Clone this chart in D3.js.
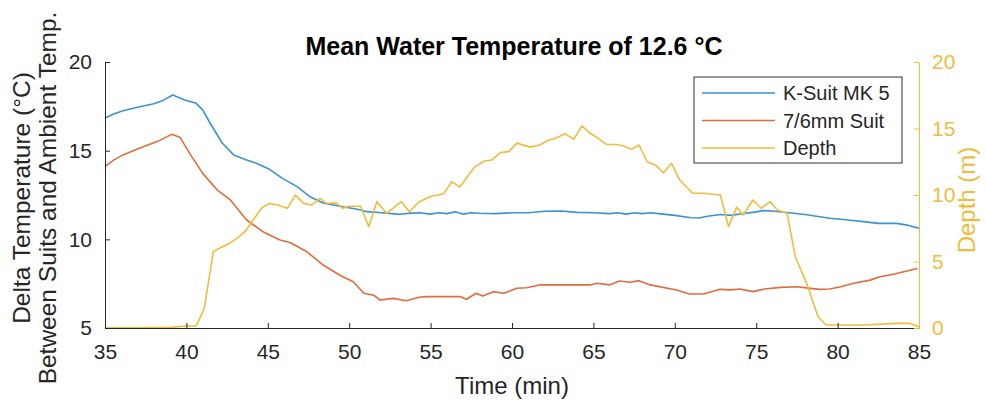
<!DOCTYPE html>
<html>
<head>
<meta charset="utf-8">
<script src="https://cdn.jsdelivr.net/npm/d3@7"></script>
<style>
  body { margin: 0; background: #fff; }
  svg { font-family: "Liberation Sans", Arial, sans-serif; }
</style>
</head>
<body>
<svg id="chart" width="986" height="402"></svg>
<script>
/* Suit temperature vs. depth, two y axes (MATLAB-like look) */

// K-Suit MK 5
const kTime = [35, 35.5, 36.1, 37, 38, 38.6, 39.16, 39.9, 40.6, 41, 41.45, 42.2, 42.9, 43.7, 44.3, 45.1, 45.9, 46.8, 47.6, 48.4, 49.6, 50.5, 51.1, 52, 53.1, 53.8, 54.3, 55, 55.5, 56, 56.5, 57, 57.5, 58, 59, 60, 61, 62, 63, 64, 65, 66, 66.5, 67, 67.5, 68, 68.5, 69, 70, 71, 71.5, 72, 72.8, 73.5, 74, 75, 75.4, 76, 77, 78, 79.5, 80.5, 81.6, 82.5, 83.6, 84.3, 85];
const kSuit = [16.84, 17.05, 17.25, 17.45, 17.65, 17.85, 18.14, 17.86, 17.67, 17.3, 16.56, 15.43, 14.76, 14.47, 14.29, 13.95, 13.44, 12.97, 12.4, 12.05, 11.84, 11.7, 11.56, 11.5, 11.41, 11.48, 11.5, 11.42, 11.5, 11.45, 11.55, 11.42, 11.5, 11.47, 11.45, 11.5, 11.5, 11.58, 11.6, 11.52, 11.5, 11.45, 11.5, 11.42, 11.5, 11.45, 11.5, 11.45, 11.35, 11.22, 11.2, 11.3, 11.4, 11.35, 11.43, 11.55, 11.62, 11.6, 11.5, 11.4, 11.19, 11.1, 11.0, 10.9, 10.9, 10.8, 10.62];

// 7/6mm Suit
const wetTime = [35, 35.5, 36.1, 37, 38.2, 39.1, 39.6, 40.2, 41, 41.9, 42.7, 43.7, 44.7, 45.75, 46.4, 47.4, 48.4, 49.4, 50.25, 50.9, 51.5, 51.9, 52.7, 53.5, 54.3, 54.75, 56.8, 57.2, 57.8, 58.2, 58.85, 59.5, 60.3, 60.9, 61.7, 64.8, 65.2, 66, 66.6, 67.25, 67.8, 68.5, 70.1, 70.9, 71.75, 72.8, 73.4, 74, 74.8, 75.5, 76.5, 77.5, 78.2, 78.9, 79.5, 80.2, 81, 82, 82.6, 83.5, 84.2, 84.9];
const wetSuit = [14.1, 14.45, 14.76, 15.1, 15.51, 15.92, 15.76, 14.85, 13.72, 12.78, 12.22, 11.09, 10.43, 9.96, 9.81, 9.3, 8.55, 7.99, 7.61, 6.96, 6.85, 6.58, 6.67, 6.54, 6.73, 6.77, 6.77, 6.62, 6.96, 6.8, 7.05, 6.96, 7.24, 7.27, 7.43, 7.43, 7.52, 7.43, 7.65, 7.58, 7.67, 7.43, 7.14, 6.92, 6.92, 7.18, 7.15, 7.2, 7.05, 7.2, 7.29, 7.33, 7.25, 7.18, 7.2, 7.33, 7.52, 7.7, 7.89, 8.05, 8.2, 8.36];

// Depth (m), right axis
const depthTime = [35, 36, 37, 38, 39, 40, 40.6, 41.1, 41.65, 42.2, 42.6, 43.1, 43.6, 44.1, 44.6, 45.1, 45.6, 46.2, 46.7, 47.2, 47.7, 48.2, 48.6, 49.2, 49.6, 50, 50.7, 51.2, 51.7, 52.3, 53.2, 53.7, 54.3, 54.95, 55.8, 56.3, 56.8, 57.7, 58.3, 58.75, 59.3, 59.8, 60.3, 61.1, 61.7, 62.2, 62.75, 63.25, 63.8, 64.3, 64.8, 65.2, 65.8, 66.4, 66.85, 67.35, 67.8, 68.3, 68.8, 69.3, 69.8, 70.3, 71.1, 71.75, 72.8, 73.3, 73.8, 74.2, 74.8, 75.3, 75.85, 76.3, 76.9, 77.4, 78.1, 78.8, 79.3, 79.75, 81.6, 83.6, 84.4, 85];
const depth = [0.02, 0.02, 0.02, 0.03, 0.05, 0.15, 0.15, 1.48, 5.74, 6.11, 6.32, 6.74, 7.24, 8.12, 9.0, 9.37, 9.25, 9.0, 10.0, 9.37, 9.25, 9.75, 9.37, 9.4, 9.0, 9.15, 9.15, 7.62, 9.5, 8.62, 9.5, 8.74, 9.5, 9.87, 10.1, 11.0, 10.6, 12.1, 12.56, 12.63, 13.2, 13.26, 13.9, 13.6, 13.76, 14.1, 14.3, 14.6, 14.2, 15.2, 14.64, 14.34, 13.8, 13.8, 13.68, 13.43, 13.76, 12.5, 12.26, 11.68, 12.38, 11.13, 10.13, 10.13, 10.0, 7.62, 9.07, 8.5, 9.62, 9.0, 9.5, 8.87, 8.62, 5.36, 3.36, 0.85, 0.23, 0.23, 0.23, 0.35, 0.35, 0.1];

const xTicks = [35, 40, 45, 50, 55, 60, 65, 70, 75, 80, 85];
const leftTicks = [5, 10, 15, 20];
const rightTicks = [0, 5, 10, 15, 20];
const legendNames = ["K-Suit MK 5", "7/6mm Suit", "Depth"];

const BLUE = "#3a92d2";
const RED = "#de6c3c";
const YELLOW = "#efbc3e";
const INK = "#262626";

const svg = d3.select("#chart");
const plot = { left: 105, right: 919, top: 62, bottom: 328 };

const x = d3.scaleLinear().domain([35, 85]).range([plot.left, plot.right]);
const yL = d3.scaleLinear().domain([5, 20]).range([plot.bottom, plot.top]);
const yR = d3.scaleLinear().domain([0, 20]).range([plot.bottom, plot.top]);

function drawLine(times, values, yScale, color) {
  const line = d3.line()
    .x((d, i) => x(times[i]))
    .y(d => yScale(d));
  svg.append("path")
    .datum(values)
    .attr("fill", "none")
    .attr("stroke", color)
    .attr("stroke-width", 1.6)
    .attr("stroke-linejoin", "round")
    .attr("d", line);
}

drawLine(kTime, kSuit, yL, BLUE);
drawLine(wetTime, wetSuit, yL, RED);
drawLine(depthTime, depth, yR, YELLOW);

// axes, ticks pointing inward like MATLAB
const xAxis = svg.append("g")
  .attr("transform", `translate(0,${plot.bottom})`)
  .call(d3.axisBottom(x).tickValues(xTicks).tickSizeInner(-5).tickSizeOuter(0).tickPadding(16));

const leftAxis = svg.append("g")
  .attr("transform", `translate(${plot.left},0)`)
  .call(d3.axisLeft(yL).tickValues(leftTicks).tickSizeInner(-5).tickSizeOuter(0).tickPadding(13));

const rightAxis = svg.append("g")
  .attr("transform", `translate(${plot.right},0)`)
  .call(d3.axisRight(yR).tickValues(rightTicks).tickSizeInner(-5).tickSizeOuter(0).tickPadding(13));

[xAxis, leftAxis].forEach(g => {
  g.select(".domain").attr("stroke", INK);
  g.selectAll(".tick line").attr("stroke", INK);
  g.selectAll(".tick text").attr("fill", INK).style("font-size", "21px");
});
rightAxis.select(".domain").attr("stroke", YELLOW);
rightAxis.selectAll(".tick line").attr("stroke", YELLOW);
rightAxis.selectAll(".tick text").attr("fill", YELLOW).style("font-size", "21px");

// titles and labels
svg.append("text")
  .attr("x", 514)
  .attr("y", 55)
  .attr("text-anchor", "middle")
  .attr("fill", "#000")
  .style("font-size", "25px")
  .style("font-weight", "bold")
  .text("Mean Water Temperature of 12.6 \u00B0C");

svg.append("text")
  .attr("x", (plot.left + plot.right) / 2)
  .attr("y", 394)
  .attr("text-anchor", "middle")
  .attr("fill", INK)
  .style("font-size", "24px")
  .text("Time (min)");

const yMid = 198;
svg.append("text")
  .attr("transform", `translate(30,${yMid}) rotate(-90)`)
  .attr("text-anchor", "middle")
  .attr("fill", INK)
  .style("font-size", "24.5px")
  .text("Delta Temperature (\u00B0C)");
svg.append("text")
  .attr("transform", `translate(56,${yMid}) rotate(-90)`)
  .attr("text-anchor", "middle")
  .attr("fill", INK)
  .style("font-size", "24.5px")
  .text("Between Suits and Ambient Temp.");

svg.append("text")
  .attr("transform", `translate(975,200) rotate(-90)`)
  .attr("text-anchor", "middle")
  .attr("fill", YELLOW)
  .style("font-size", "24px")
  .text("Depth (m)");

// legend
const legend = svg.append("g").attr("transform", "translate(694,77)");
legend.append("rect")
  .attr("width", 208).attr("height", 86)
  .attr("fill", "#fff")
  .attr("stroke", "#333")
  .attr("stroke-width", 1);

const colors = [BLUE, RED, YELLOW];
const rows = legend.selectAll(".row")
  .data(legendNames)
  .enter()
  .append("g")
  .attr("transform", (d, i) => `translate(0,${16 + i * 27.5})`);
rows.append("line")
  .attr("x1", 8).attr("x2", 81)
  .attr("stroke", (d, i) => colors[i])
  .attr("stroke-width", 1.6);
rows.append("text")
  .attr("x", 89).attr("dy", "0.35em")
  .attr("fill", INK)
  .style("font-size", "20px")
  .text(d => d);
</script>
</body>
</html>
